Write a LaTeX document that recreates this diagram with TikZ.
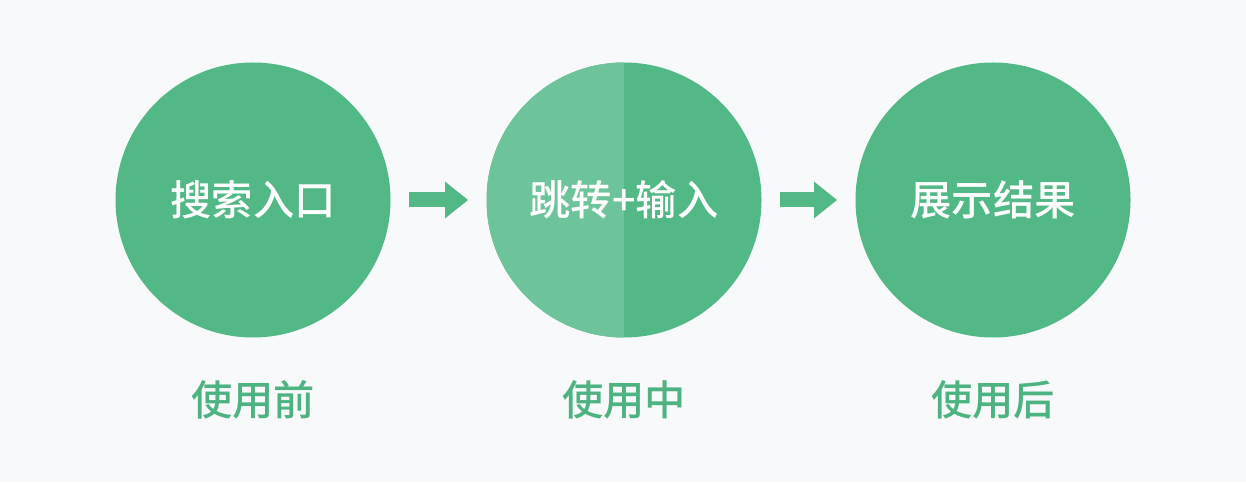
\documentclass[tikz,border=0pt]{standalone}
\usepackage{fontspec}
\newfontfamily\cjk{Noto Sans CJK SC Medium}
\usetikzlibrary{arrows.meta}
\definecolor{bggray}{HTML}{F7F9FA}
\definecolor{darkgreen}{HTML}{52B886}
\definecolor{lightgreen}{HTML}{6DC49B}
\definecolor{labelgreen}{HTML}{4DB381}
\tikzset{
  stage/.style={circle, fill=darkgreen, minimum size=5.5cm, inner sep=0pt, text=white, font=\cjk\fontsize{23.5}{27}\selectfont},
  halfstage/.style={stage, path picture={\fill[lightgreen] (path picture bounding box.south west) rectangle (path picture bounding box.north);}},
  phase/.style={text=labelgreen, font=\cjk\fontsize{23.5}{27}\selectfont},
  flow/.style={darkgreen, line width=0.3cm, shorten <=0.36cm, shorten >=0.36cm, -{Triangle[width=0.7cm,length=0.46cm]}}
}
\begin{document}
\begin{tikzpicture}
       \path [fill=bggray] (0,0) rectangle (24.92,9.64);
       \useasboundingbox (0,0) rectangle (24.92,9.64);

       %the main figure starts
       \node [stage] (before) at (5.06,5.64) {搜索入口};
       \node [halfstage] (during) at (12.48,5.64) {跳转+输入};
       \node [stage] (after) at (19.86,5.64) {展示结果};

       \draw [flow] (before) -- (during);
       \draw [flow] (during) -- (after);

       \node [phase] (beforelabel) at (5.06,1.64) {使用前};
       \node [phase] (duringlabel) at (12.48,1.64) {使用中};
       \node [phase] (afterlabel) at (19.86,1.64) {使用后};
\end{tikzpicture}
\end{document}
